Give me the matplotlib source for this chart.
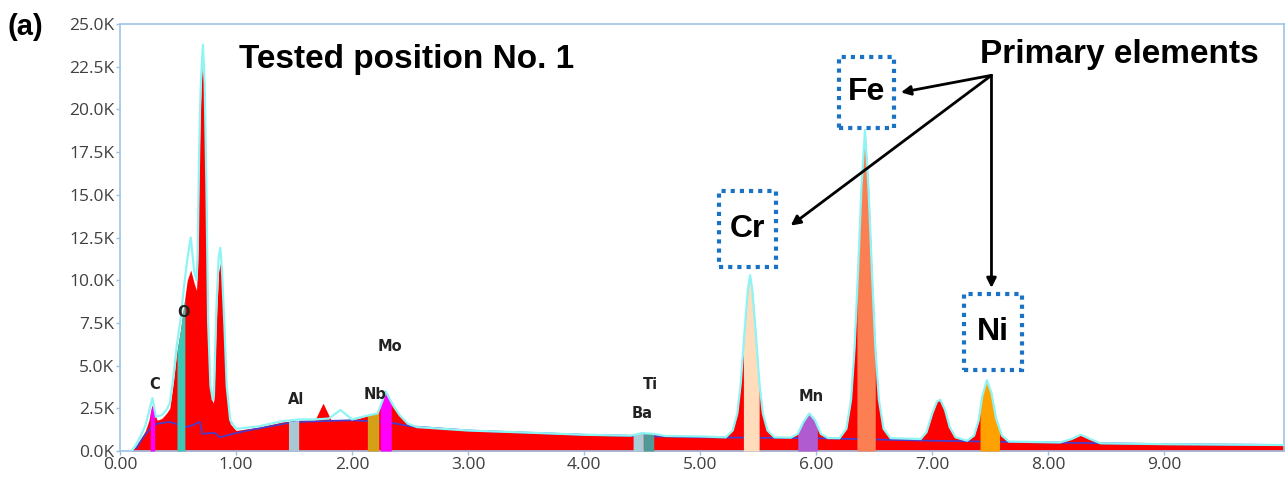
import numpy as np
import matplotlib.pyplot as plt
from matplotlib.patches import Rectangle

# EDS spectrum, energy in keV, counts in thousands
energy = [0.00, 0.10, 0.14, 0.18, 0.22, 0.25, 0.27, 0.28, 0.30, 0.32, 0.36, 0.40, 0.43,
          0.46, 0.49, 0.52, 0.55, 0.58, 0.61, 0.64, 0.66, 0.67, 0.68, 0.69, 0.70, 0.715,
          0.73, 0.745, 0.76, 0.78, 0.80, 0.81, 0.83, 0.85, 0.865, 0.88, 0.90, 0.92, 0.95,
          1.00, 1.20, 1.40, 1.55, 1.68, 1.75, 1.82, 2.00, 2.15, 2.22, 2.26, 2.29, 2.32,
          2.36, 2.41, 2.48, 2.56, 3.00, 3.50, 4.00, 4.40, 4.50, 4.60, 4.70, 5.00,
          5.22, 5.28, 5.32, 5.35, 5.38, 5.41, 5.43, 5.45, 5.48, 5.51, 5.54, 5.58, 5.64,
          5.78, 5.84, 5.89, 5.94, 5.99, 6.04, 6.10,
          6.20, 6.26, 6.30, 6.33, 6.36, 6.39, 6.42, 6.45, 6.48, 6.51, 6.54, 6.58, 6.64,
          6.90, 6.95, 7.00, 7.04, 7.07, 7.11, 7.15, 7.20, 7.30,
          7.36, 7.40, 7.43, 7.47, 7.51, 7.55, 7.60, 7.66,
          8.10, 8.20, 8.28, 8.36, 8.45, 9.00, 10.03]
counts = [0.0, 0.0, 0.3, 0.7, 1.2, 1.8, 2.5, 2.7, 2.2, 1.8, 1.9, 2.2, 2.5,
          4.0, 5.8, 7.0, 8.5, 10.0, 10.6, 9.8, 9.4, 11.0, 16.0, 19.5, 21.5, 23.0,
          21.0, 15.0, 7.0, 3.5, 2.8, 3.0, 7.5, 10.5, 11.0, 10.0, 7.0, 3.5, 1.6,
          1.2, 1.4, 1.7, 1.8, 1.8, 2.8, 1.8, 1.8, 2.1, 2.2, 2.9, 3.5, 3.1,
          2.6, 2.1, 1.6, 1.4, 1.2, 1.08, 0.95, 0.9, 1.05, 1.0, 0.88, 0.85,
          0.8, 1.2, 2.2, 4.0, 6.8, 9.4, 10.3, 9.4, 6.8, 4.0, 2.2, 1.2, 0.8,
          0.78, 1.0, 1.7, 2.2, 1.8, 1.0, 0.76,
          0.75, 1.3, 3.0, 6.0, 10.5, 15.5, 18.8, 15.5, 10.5, 6.0, 3.0, 1.3, 0.75,
          0.7, 1.1, 2.2, 2.9, 3.0, 2.4, 1.4, 0.8, 0.6,
          0.9, 1.8, 3.2, 4.15, 3.4, 1.9, 0.9, 0.55,
          0.5, 0.7, 0.95, 0.7, 0.45, 0.4, 0.35]

# fitted envelope (cyan) where it departs from the counts, low energy part
fit_lo_e = [0.10, 0.14, 0.18, 0.22, 0.25, 0.28, 0.31, 0.36, 0.40, 0.43, 0.46, 0.49,
            0.52, 0.55, 0.58, 0.61, 0.64, 0.66, 0.67, 0.68, 0.69, 0.70, 0.715, 0.73,
            0.745, 0.76, 0.78, 0.80, 0.81, 0.83, 0.85, 0.865, 0.88, 0.90, 0.92, 0.95,
            1.00, 1.20, 1.40, 1.55, 1.68, 1.80, 1.90, 2.00, 2.15, 2.22, 2.26, 2.29,
            2.32, 2.36, 2.41, 2.48]
fit_lo_k = [0.0, 0.4, 0.9, 1.5, 2.3, 3.1, 2.0, 2.1, 2.4, 2.8, 4.3, 6.2,
            7.6, 9.5, 11.2, 12.5, 10.5, 10.0, 11.5, 16.5, 20.0, 22.0, 23.8, 21.5,
            15.5, 7.5, 3.8, 3.0, 3.3, 8.2, 11.3, 11.9, 10.5, 7.4, 3.8, 1.8,
            1.3, 1.45, 1.75, 1.85, 1.85, 1.9, 2.4, 1.85, 2.1, 2.2, 2.9, 3.5,
            3.1, 2.6, 2.1, 1.6]

# background (blue line)
bg_e = [0.14, 0.20, 0.27, 0.32, 0.43, 0.50, 0.57, 0.62, 0.69, 0.71, 0.78, 0.82,
        0.86, 0.97, 1.10, 1.50, 2.00, 2.30, 2.50, 3.00, 4.00, 5.00, 6.00, 7.00,
        8.00, 9.00, 10.03]
bg_k = [0.15, 0.8, 1.4, 1.6, 1.7, 1.55, 1.4, 1.5, 1.7, 1.0, 1.05, 1.05,
        0.8, 1.0, 1.2, 1.7, 1.8, 1.7, 1.45, 1.2, 0.95, 0.8, 0.75, 0.6,
        0.5, 0.4, 0.35]

# identified element windows
elements = ["C", "O", "Al", "Nb", "Mo", "Ba", "Ti", "Cr", "Mn", "Fe", "Ni"]
win_lo = [0.26, 0.49, 1.45, 2.13, 2.24, 4.42, 4.51, 5.37, 5.84, 6.35, 7.41]
win_hi = [0.30, 0.56, 1.54, 2.23, 2.34, 4.51, 4.60, 5.51, 6.01, 6.51, 7.58]
win_col = ["#ff00ff", "#3cc8b4", "#a9c8d6", "#d4a017", "#ff00ff", "#a9ccd6",
           "#4f9a98", "#fedcbc", "#b05cd0", "#fb7f52", "#ffa200"]
# small label positions (keV, K counts)
lab_x = [0.30, 0.55, 1.52, 2.20, 2.33, 4.50, 4.57, None, 5.96, None, None]
lab_y = [3.9, 8.1, 3.0, 3.3, 6.1, 2.2, 3.9, None, 3.2, None, None]

primary = ["Fe", "Cr", "Ni"]
box_x0 = [6.20, 5.16, 7.27]
box_x1 = [6.67, 5.65, 7.77]
box_y0 = [18.9, 10.8, 4.75]
box_y1 = [23.1, 15.2, 9.2]
arrow_to = [(6.73, 21.0), (5.78, 13.2), (7.51, 9.55)]

fig = plt.figure(figsize=(12.87, 4.84), dpi=100)
ax = fig.add_axes([0.0932, 0.0682, 0.9044, 0.882])

grid = np.linspace(0, 10.03, 4000)
spec = np.interp(grid, energy, counts)
ax.fill_between(grid, 0, spec, color="#ff0000", lw=0, zorder=2)
ax.plot(bg_e, bg_k, color="#4b3cc8", lw=1.3, zorder=3)

for lo, hi, c in zip(win_lo, win_hi, win_col):
    m = (grid >= lo) & (grid <= hi)
    ax.fill_between(grid[m], 0, spec[m], color=c, lw=0, zorder=4)

fit_e = fit_lo_e + [e for e in energy if e >= 2.56]
fit_k = fit_lo_k + [k for e, k in zip(energy, counts) if e >= 2.56]
ax.plot(fit_e, fit_k, color="#8ff4f4", lw=1.6, zorder=5)

for name, x, y in zip(elements, lab_x, lab_y):
    if x is not None:
        ax.text(x, y, name, ha="center", va="center", fontsize=10.5,
                color="#222222", fontweight="semibold", zorder=6)

ax.text(1.03, 22.9, "Tested position No. 1", fontsize=24, fontweight="bold",
        family="Liberation Sans", va="center", ha="left", zorder=6)
ax.text(7.41, 23.2, "Primary elements", fontsize=24, fontweight="bold",
        family="Liberation Sans", va="center", ha="left", zorder=6)

for name, x0, x1, y0, y1 in zip(primary, box_x0, box_x1, box_y0, box_y1):
    ax.add_patch(Rectangle((x0, y0), x1 - x0, y1 - y0, fill=False,
                           edgecolor="#1a72c4", lw=3, linestyle=(0, (1, 1.2)),
                           zorder=6))
    ax.text((x0 + x1) / 2, (y0 + y1) / 2, name, fontsize=23, fontweight="bold",
            family="Liberation Sans", ha="center", va="center", zorder=6)

for tx, ty in arrow_to:
    ax.annotate("", xy=(tx, ty), xytext=(7.51, 22.0),
                arrowprops=dict(arrowstyle="-|>", color="black", lw=2,
                                mutation_scale=14, shrinkA=0, shrinkB=0),
                zorder=7)

ax.set_xlim(0, 10.03)
ax.set_ylim(0, 25)
ax.set_xticks(np.arange(0, 10, 1.0))
ax.set_xticklabels([f"{v:.2f}" for v in np.arange(0, 10, 1.0)])
ax.set_yticks(np.arange(0, 25.1, 2.5))
ax.set_yticklabels([f"{v:.1f}K" for v in np.arange(0, 25.1, 2.5)])
ax.tick_params(colors="#9dbfe0", labelcolor="#404040", labelsize=12.5,
               length=3, width=1, pad=1)
for lab in ax.get_xticklabels() + ax.get_yticklabels():
    lab.set_family("Open Sans")
for s in ax.spines.values():
    s.set_color("#9dc3e6")
    s.set_linewidth(1.2)

fig.text(0.006, 0.945, "(a)", fontsize=21, fontweight="bold",
         family="Liberation Sans", va="center", ha="left")

fig.savefig("out.png", dpi=100)
